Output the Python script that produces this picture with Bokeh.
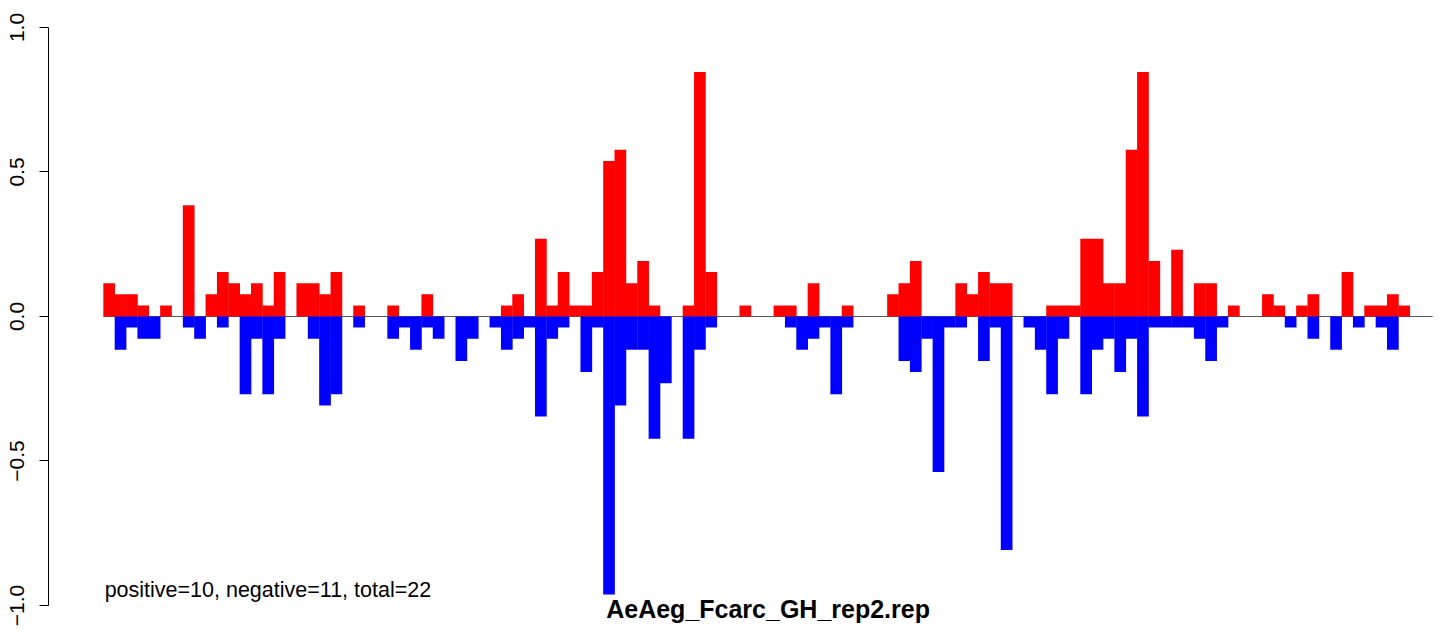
from bokeh.plotting import figure
from bokeh.models import Range1d, FixedTicker, ColumnDataSource, CustomJSTickFormatter
from bokeh.core.properties import value
from bokeh.embed import file_html
from bokeh.resources import INLINE

# ---- data (one value per bin) ----
positive = [0.115, 0.077, 0.077, 0.038, 0, 0.038, 0, 0.385, 0, 0.077,
            0.154, 0.115, 0.077, 0.115, 0.038, 0.154, 0, 0.115, 0.115, 0.077,
            0.154, 0, 0.038, 0, 0, 0.038, 0, 0, 0.077, 0,
            0, 0, 0, 0, 0, 0.038, 0.077, 0, 0.269, 0.038,
            0.154, 0.038, 0.038, 0.154, 0.538, 0.577, 0.115, 0.192, 0.038, 0,
            0, 0.038, 0.846, 0.154, 0, 0, 0.038, 0, 0, 0.038,
            0.038, 0, 0.115, 0, 0, 0.038, 0, 0, 0, 0.077,
            0.115, 0.192, 0, 0, 0, 0.115, 0.077, 0.154, 0.115, 0.115,
            0, 0, 0, 0.038, 0.038, 0.038, 0.269, 0.269, 0.115, 0.115,
            0.577, 0.846, 0.192, 0, 0.231, 0, 0.115, 0.115, 0, 0.038,
            0, 0, 0.077, 0.038, 0, 0.038, 0.077, 0, 0, 0.154,
            0, 0.038, 0.038, 0.077, 0.038, 0, 0]

negative = [0, -0.115, -0.038, -0.077, -0.077, 0, 0, -0.038, -0.077, 0,
            -0.038, 0, -0.269, -0.077, -0.269, -0.077, 0, 0, -0.077, -0.308,
            -0.269, 0, -0.038, 0, 0, -0.077, -0.038, -0.115, -0.038, -0.077,
            0, -0.154, -0.077, 0, -0.038, -0.115, -0.077, -0.038, -0.346, -0.077,
            -0.038, 0, -0.192, -0.038, -0.962, -0.308, -0.115, -0.115, -0.423, -0.231,
            0, -0.423, -0.115, -0.038, 0, 0, 0, 0, 0, 0,
            -0.038, -0.115, -0.077, -0.038, -0.269, -0.038, 0, 0, 0, 0,
            -0.154, -0.192, -0.077, -0.538, -0.038, -0.038, 0, -0.154, -0.038, -0.808,
            0, -0.038, -0.115, -0.269, -0.077, 0, -0.269, -0.115, -0.077, -0.192,
            -0.077, -0.346, -0.038, -0.038, -0.038, -0.038, -0.077, -0.154, -0.038, 0,
            0, 0, 0, 0, -0.038, 0, -0.077, 0, -0.115, 0,
            -0.038, 0, -0.038, -0.115, 0, 0, 0]

y_ticks = [-1.0, -0.5, 0.0, 0.5, 1.0]
summary_text = "positive=10, negative=11, total=22"
title_text = "AeAeg_Fcarc_GH_rep2.rep"

n_bins = len(positive)
centers = [i + 0.5 for i in range(n_bins)]
src = ColumnDataSource(dict(x=centers, pos=positive, neg=negative))

FONT = "Liberation Sans"

p = figure(width=1436, height=630, output_backend="svg", toolbar_location=None,
           x_range=Range1d(-4.842, 117.34), y_range=Range1d(-1.0865, 1.0934),
           x_axis_location=None, min_border=0)
p.min_border_left = 48
p.min_border_right = 0
p.min_border_top = 0
p.min_border_bottom = 0
p.grid.visible = False
p.outline_line_color = None
p.background_fill_color = "white"
p.border_fill_color = "white"

ax = p.yaxis[0]
ax.ticker = FixedTicker(ticks=y_ticks)
ax.formatter = CustomJSTickFormatter(code="return tick.toFixed(1).replace('-', '\\u2212');")
ax.bounds = (min(y_ticks), max(y_ticks))
ax.major_label_orientation = "vertical"
ax.major_label_text_font = FONT
ax.major_label_text_font_size = "21px"
ax.major_label_text_color = "black"
ax.major_label_standoff = 15
ax.major_tick_out = 9
ax.major_tick_in = 0
ax.minor_tick_line_color = None
ax.axis_line_color = "black"
ax.major_tick_line_color = "black"

# zero baseline
p.line(x=[0, n_bins], y=[0, 0], line_color="#555555", line_width=1)

p.vbar(x="x", width=1.03, bottom=0, top="pos", source=src,
       fill_color="#FF0000", line_color=None)
p.vbar(x="x", width=1.03, bottom="neg", top=0, source=src,
       fill_color="#0000FF", line_color=None)

p.text(x=[0.1], y=[-0.948], text=[summary_text], text_font=value(FONT),
       text_font_size="21.5px", text_baseline="middle", text_align="left",
       text_color="black")
p.text(x=[58.5], y=[-1.062], text=[title_text], text_font=value(FONT),
       text_font_size="25px", text_font_style="bold", text_baseline="bottom",
       text_align="center", text_color="black")

open("out.html", "w").write(file_html(p, INLINE))
